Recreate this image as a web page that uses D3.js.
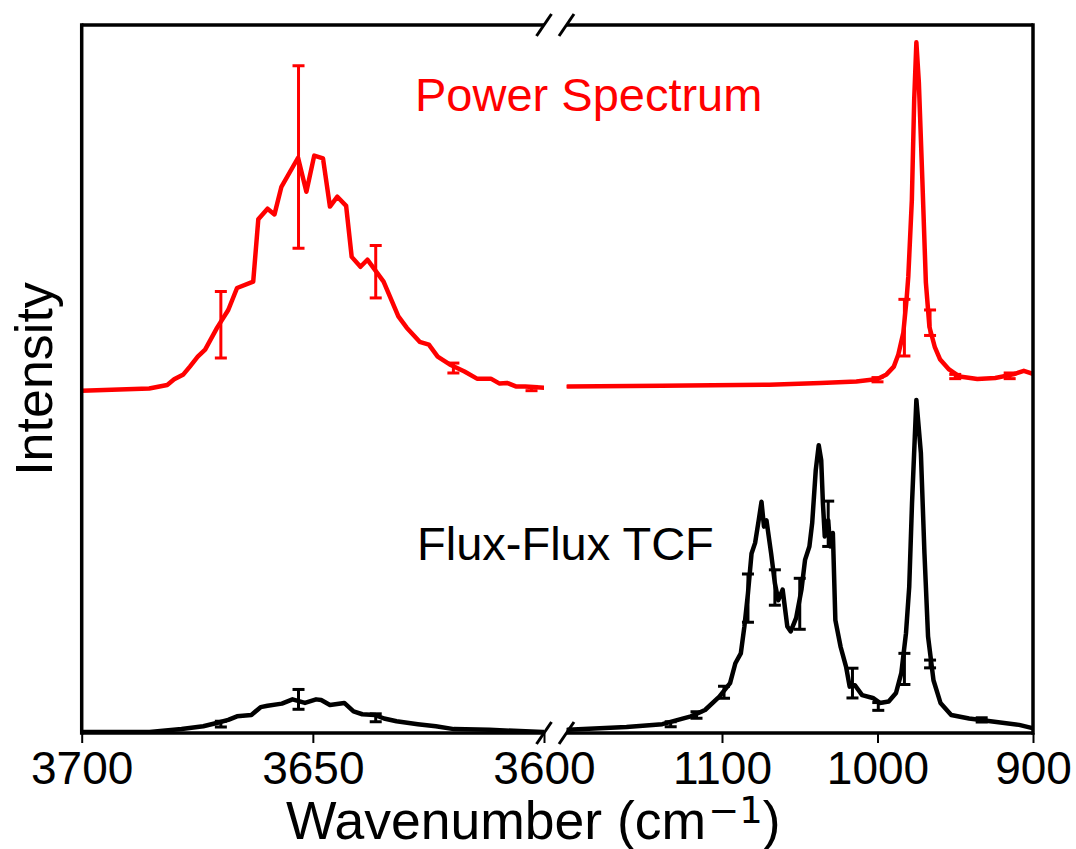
<!DOCTYPE html>
<html>
<head>
<meta charset="utf-8" />
<title>Power spectrum vs flux-flux TCF</title>
<style>
body { margin: 0; background: #fff; }
text { font-family: "Liberation Sans", Arial, sans-serif; }
.tick text { font-size: 46px; fill: #000; }
.tick line { stroke: #000; stroke-width: 2px; }
.curve { fill: none; stroke-width: 4.5px; stroke-linejoin: round; stroke-linecap: round; }
.err { stroke-width: 3px; fill: none; }
.frame { stroke: #000; stroke-width: 3.5px; fill: none; }
</style>
</head>
<body>
<script src="https://cdn.jsdelivr.net/npm/d3@7"></script>
<script>
// ---- data (intensity in arbitrary units) ----
var redOffset = 48.2;

var redLeftWn = [3700, 3685.4, 3681.5, 3680.0, 3678.0, 3676.6, 3674.9, 3673.3, 3670.7, 3668.3, 3666.4, 3662.9, 3661.8, 3659.8, 3658.3, 3656.8, 3653.2, 3651.4, 3649.7, 3647.8, 3646.3, 3644.7, 3642.8, 3641.6, 3639.7, 3638.2, 3634.7, 3631.5, 3629.7, 3626.9, 3624.9, 3623.0, 3620.4, 3617.2, 3614.5, 3611.5, 3609.6, 3608.0, 3606.1, 3604.1, 3599.8];
var redLeftI = [0, 0.3, 0.8, 1.6, 2.3, 3.4, 4.8, 5.8, 8.9, 11.4, 14.5, 15.4, 24.2, 25.7, 24.9, 28.8, 32.9, 28.1, 33.2, 32.8, 26.0, 27.4, 26.1, 18.9, 17.5, 18.5, 15.4, 10.5, 8.9, 6.9, 6.5, 4.8, 3.7, 2.7, 1.7, 1.7, 1.0, 1.1, 0.6, 0.6, 0.4];

var redRightWn = [1199.3, 1138.5, 1069.6, 1036.5, 1013.6, 1000, 994.2, 989.5, 986.6, 983.4, 981.3, 980.2, 977.9, 976.4, 975.0, 973.4, 971.1, 968.9, 966.6, 963.2, 959.7, 954, 947.2, 935.8, 924.3, 912.8, 905.9, 899];
var redRightI = [0.6, 0.7, 0.85, 1.1, 1.3, 1.65, 2.3, 3.4, 5.1, 8.2, 12.9, 16.1, 27, 41.1, 49.2, 43.5, 29.4, 15.3, 9.0, 6.2, 4.4, 3.0, 2.0, 1.65, 1.8, 2.3, 2.8, 2.3];

var blackLeftWn = [3700, 3685.3, 3678.4, 3673.7, 3670.6, 3668.3, 3666.4, 3663.3, 3661.3, 3659.8, 3656.7, 3654.4, 3651.7, 3649.3, 3648.2, 3646.3, 3643.2, 3641.2, 3639.3, 3636.6, 3634.6, 3631.9, 3627.3, 3623.4, 3619.5, 3611.8, 3600.2];
var blackLeftI = [0, 0, 0.4, 0.8, 1.3, 1.7, 2.2, 2.4, 3.5, 3.7, 4.0, 4.6, 4.1, 4.6, 4.5, 3.8, 4.1, 2.9, 2.5, 2.4, 1.9, 1.5, 1.1, 0.8, 0.4, 0.3, 0];

var blackRightWn = [1199.3, 1161.4, 1138.4, 1120, 1110.9, 1101.7, 1094.8, 1091.4, 1087.9, 1085.6, 1083.3, 1081, 1078.7, 1076.4, 1074.6, 1073, 1071.4, 1068.4, 1066, 1063.8, 1061, 1058, 1055.8, 1052.3, 1048.9, 1046.6, 1043.8, 1042, 1039.7, 1037.8, 1036.2, 1035.1, 1033.9, 1031.7, 1030.5, 1028.7, 1027.1, 1023.7, 1020.2, 1017.9, 1014.5, 1009.9, 1003, 998.5, 992.8, 988.1, 984.7, 981.7, 979.6, 977.8, 976, 975, 972.1, 969.8, 967.5, 964, 959.5, 952.6, 941.1, 927.3, 908.9, 899.7];
var blackRightI = [0.3, 0.7, 1.1, 2.2, 3.1, 5.0, 6.9, 9.7, 11.1, 14.9, 19.6, 25.2, 26.7, 29.9, 32.5, 29, 29.9, 25.2, 21, 18.6, 20.1, 14.9, 14.2, 16.1, 20.1, 24.3, 26.2, 29.5, 37, 40.5, 38.4, 32.3, 27.6, 29.9, 26.2, 28.1, 15.8, 12, 9.2, 6.4, 6.6, 5.2, 4.8, 4.1, 4.3, 5.5, 8.3, 13.9, 20.5, 32.3, 41.7, 46.9, 39.4, 25.2, 13.5, 7.3, 4.1, 2.4, 1.9, 1.5, 1.0, 0.5];

// error bars: position, centre, half-width
var redErrWn  = [3669.9, 3653.1, 3636.4, 3619.6, 3602.7, 1000, 982.7, 966.2, 950, 915];
var redErrI   = [9.3, 33.0, 16.8, 3.2, 0.3, 1.55, 8.9, 9.6, 2.0, 2.1];
var redErrD   = [4.7, 12.9, 3.7, 0.7, 0.3, 0.3, 4.0, 1.8, 0.3, 0.4];

var blackErrWn = [3669.9, 3653.1, 3636.4, 1133, 1116.4, 1098.7, 1083.3, 1066, 1050, 1031.7, 1016.1, 999.5, 982.7, 966.2, 933];
var blackErrI  = [1.1, 4.6, 2.0, 1.1, 2.4, 5.6, 18.9, 20.4, 18.1, 29.4, 6.9, 3.6, 8.9, 9.6, 1.7];
var blackErrD  = [0.42, 1.4, 0.56, 0.35, 0.45, 0.85, 3.4, 2.5, 3.6, 3.2, 2.1, 0.55, 2.2, 0.55, 0.3];

var leftTicks = [3700, 3650, 3600];
var rightTicks = [1100, 1000, 900];

// ---- layout ----
var W = 1076, H = 849;
var plotTop = 25, plotBottom = 733;

var svg = d3.select("body").append("svg")
    .attr("width", W)
    .attr("height", H);

var y = d3.scaleLinear().domain([-0.15, 99.85]).range([plotBottom, plotTop]);

var xLeft = d3.scaleLinear().domain([3700, 3600]).range([81.7, 544]);
var xRight = d3.scaleLinear().domain([1200, 900]).range([566.5, 1033]);

function zip(a, b) {
    return a.map(function(v, i) { return [v, b[i]]; });
}

var panels = [
    {id: "left", x: xLeft, ticks: leftTicks,
     red: zip(redLeftWn, redLeftI), black: zip(blackLeftWn, blackLeftI)},
    {id: "right", x: xRight, ticks: rightTicks,
     red: zip(redRightWn, redRightI), black: zip(blackRightWn, blackRightI)}
];

var redErr = redErrWn.map(function(w, i) { return {w: w, c: redErrI[i] + redOffset, d: redErrD[i]}; });
var blackErr = blackErrWn.map(function(w, i) { return {w: w, c: blackErrI[i], d: blackErrD[i]}; });

var defs = svg.append("defs");

panels.forEach(function(p) {
    var r = p.x.range();
    var dom = p.x.domain();
    defs.append("clipPath").attr("id", "clip-" + p.id)
      .append("rect")
        .attr("x", r[0]).attr("y", plotTop)
        .attr("width", r[1] - r[0]).attr("height", plotBottom - plotTop);

    var g = svg.append("g").attr("clip-path", "url(#clip-" + p.id + ")");

    var lineRed = d3.line()
        .x(function(d) { return p.x(d[0]); })
        .y(function(d) { return y(d[1] + redOffset); });
    var lineBlack = d3.line()
        .x(function(d) { return p.x(d[0]); })
        .y(function(d) { return y(d[1]); });

    g.append("path").attr("class", "curve").attr("stroke", "#000").attr("d", lineBlack(p.black));
    g.append("path").attr("class", "curve").attr("stroke", "#ff0000").attr("d", lineRed(p.red));

    function inPanel(e) { return e.w <= dom[0] && e.w >= dom[1]; }

    [[blackErr, "#000"], [redErr, "#ff0000"]].forEach(function(s) {
        var eg = g.append("g").attr("stroke", s[1]).attr("class", "err");
        var bars = eg.selectAll("g").data(s[0].filter(inPanel)).enter().append("g");
        bars.append("line")
            .attr("x1", function(d) { return p.x(d.w); })
            .attr("x2", function(d) { return p.x(d.w); })
            .attr("y1", function(d) { return y(d.c - d.d); })
            .attr("y2", function(d) { return y(d.c + d.d); });
        [-1, 1].forEach(function(sg) {
            bars.append("line")
                .attr("x1", function(d) { return p.x(d.w) - 6; })
                .attr("x2", function(d) { return p.x(d.w) + 6; })
                .attr("y1", function(d) { return y(d.c + sg * d.d); })
                .attr("y2", function(d) { return y(d.c + sg * d.d); });
        });
    });

    // bottom axis ticks
    var ax = svg.append("g")
        .attr("transform", "translate(0," + plotBottom + ")")
        .call(d3.axisBottom(p.x).tickValues(p.ticks).tickSize(10).tickPadding(8).tickFormat(d3.format("d")));
    ax.select(".domain").remove();
    ax.selectAll("text").style("font-family", "'Liberation Sans', Arial, sans-serif");

    // spines
    svg.append("line").attr("class", "frame")
        .attr("x1", r[0]).attr("x2", r[1]).attr("y1", plotTop).attr("y2", plotTop);
    svg.append("line").attr("class", "frame")
        .attr("x1", r[0]).attr("x2", r[1]).attr("y1", plotBottom).attr("y2", plotBottom);
});

// outer vertical spines
svg.append("line").attr("class", "frame")
    .attr("x1", xLeft.range()[0]).attr("x2", xLeft.range()[0]).attr("y1", plotTop - 1.75).attr("y2", plotBottom + 1.75);
svg.append("line").attr("class", "frame")
    .attr("x1", xRight.range()[1]).attr("x2", xRight.range()[1]).attr("y1", plotTop - 1.75).attr("y2", plotBottom + 1.75);

// break marks
[xLeft.range()[1], xRight.range()[0]].forEach(function(bx) {
    [plotTop, plotBottom].forEach(function(by) {
        svg.append("line")
            .attr("x1", bx - 7.5).attr("y1", by + 11)
            .attr("x2", bx + 7.5).attr("y2", by - 11)
            .attr("stroke", "#000").attr("stroke-width", 3);
    });
});

// annotations
svg.append("text")
    .attr("x", 415).attr("y", 111)
    .attr("fill", "#ff0000")
    .style("font-size", "47px")
    .text("Power Spectrum");

svg.append("text")
    .attr("x", 417).attr("y", 560)
    .attr("fill", "#000")
    .style("font-size", "47px")
    .text("Flux-Flux TCF");

svg.append("text")
    .attr("transform", "translate(52," + ((plotTop + plotBottom) / 2) + ") rotate(-90)")
    .attr("text-anchor", "middle")
    .style("font-size", "52px")
    .text("Intensity");

var xl = svg.append("text")
    .attr("x", 286).attr("y", 839)
    .style("font-size", "53.5px");
xl.append("tspan").text("Wavenumber (cm");
xl.append("tspan")
    .attr("dx", 2)
    .attr("dy", -16)
    .style("font-size", "37px")
    .style("font-family", "'DejaVu Sans', sans-serif")
    .text("\u22121");
xl.append("tspan").attr("dy", 16).text(")");
</script>
</body>
</html>
